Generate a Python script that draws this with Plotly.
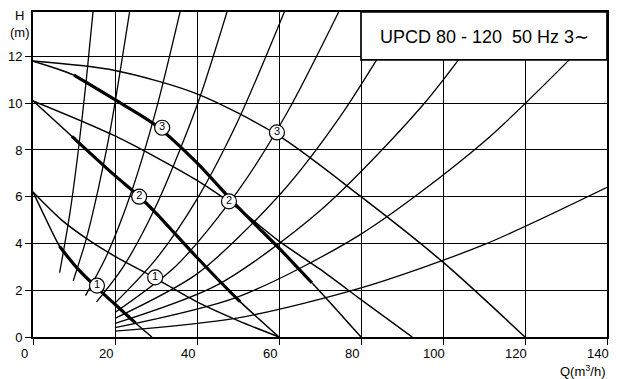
import numpy as np
import plotly.graph_objects as go

# ---------------- data ----------------
# Pump curves (Q in m3/h, H in m)
sp3_single_q = [0, 10, 20, 30, 40, 50, 60, 70, 80]
sp3_single_h = [11.8, 11.2, 10.15, 9.05, 7.45, 5.55, 3.8, 1.95, 0]
sp3_single_thick = (10, 68)

sp2_single_q = [0, 10, 20, 26, 30, 40, 50, 60]
sp2_single_h = [10.1, 8.5, 6.9, 6.0, 5.3, 3.4, 1.6, 0]
sp2_single_thick = (9.5, 50.5)

sp1_single_q = [0, 3, 6.6, 11, 15.6, 20, 25, 29]
sp1_single_h = [6.2, 5.1, 3.85, 2.9, 2.1, 1.4, 0.6, 0]
sp1_single_thick = (6.5, 25)

sp3_twin_q = [0, 20, 40, 60, 80, 100, 120]
sp3_twin_h = [11.8, 11.4, 10.4, 8.6, 6.0, 3.2, 0]

sp2_twin_q = [0, 20, 40, 50, 60, 70, 80, 92.5]
sp2_twin_h = [10.1, 8.6, 6.7, 5.5, 4.1, 2.9, 1.6, 0]

sp1_twin_q = [0, 7, 14, 20, 30, 40, 50, 60]
sp1_twin_h = [6.2, 5.0, 4.1, 3.45, 2.5, 1.5, 0.7, 0]

# System curves
sys_curves = [
    ([6.5, 9, 11, 13, 14.8], [2.75, 5.3, 7.9, 11.0, 14.2]),
    ([9.8, 13, 16, 19, 24], [2.4, 4.2, 6.4, 9.0, 14.4]),
    ([12.8, 18, 24, 30, 36], [1.77, 3.5, 6.2, 9.7, 14.0]),
    ([15.5, 22, 30, 40, 48], [1.5, 3.0, 5.6, 9.9, 14.3]),
    ([20, 30, 40, 50, 62], [1.45, 3.33, 5.9, 9.25, 14.2]),
    ([20, 35, 50, 62, 75], [1.05, 3.06, 6.25, 9.6, 14.06]),
    ([20, 40, 60, 75, 92], [0.8, 2.7, 6.05, 9.45, 14.2]),
    ([20, 45, 70, 95, 113], [0.58, 2.23, 5.4, 9.9, 14.05]),
    ([20, 50, 80, 110, 140], [0.4, 1.72, 4.4, 8.35, 13.5]),
    ([20, 50, 80, 110, 140], [0.25, 0.82, 2.1, 3.95, 6.4]),
]

# Circled speed labels
label_q = [15.6, 29.8, 25.9, 47.8, 31.5, 59.5]
label_h = [2.2, 2.55, 6.0, 5.8, 8.95, 8.75]
label_txt = ["1", "1", "2", "2", "3", "3"]

x_ticks = [0, 20, 40, 60, 80, 100, 120, 140]
x_tick_labels = ["0", "20", "40", "60", "80", "100", "120", "140"]
y_ticks = [0, 2, 4, 6, 8, 10, 12]
title_text = "UPCD 80 - 120\u00a0\u00a050 Hz 3\u223c"

FONT = "Liberation Sans"

# ---------------- figure ----------------
fig = go.Figure()


def add_line(q, h, width):
    fig.add_trace(go.Scatter(
        x=q, y=h, mode="lines",
        line=dict(color="black", width=width, shape="spline", smoothing=0.8),
        hoverinfo="skip", showlegend=False))


for q, h in sys_curves:
    add_line(q, h, 1.3)

for q, h in [(sp3_twin_q, sp3_twin_h), (sp2_twin_q, sp2_twin_h), (sp1_twin_q, sp1_twin_h)]:
    add_line(q, h, 1.5)

for q, h, (a, b) in [(sp3_single_q, sp3_single_h, sp3_single_thick),
                     (sp2_single_q, sp2_single_h, sp2_single_thick),
                     (sp1_single_q, sp1_single_h, sp1_single_thick)]:
    add_line(q, h, 1.5)
    qq = np.array(q, dtype=float)
    hh = np.array(h, dtype=float)
    inner = (qq > a) & (qq < b)
    tq = [a] + list(qq[inner]) + [b]
    th = [float(np.interp(a, qq, hh))] + list(hh[inner]) + [float(np.interp(b, qq, hh))]
    add_line(tq, th, 3.2)

fig.add_trace(go.Scatter(
    x=label_q, y=label_h, mode="markers+text", text=label_txt,
    textposition="middle center",
    textfont=dict(family=FONT, size=11, color="black"),
    marker=dict(symbol="circle", size=15, color="white",
                line=dict(color="black", width=1.2)),
    hoverinfo="skip", showlegend=False))

axis_common = dict(
    showgrid=True, gridcolor="black", gridwidth=1.4,
    showline=True, linecolor="black", linewidth=1.7, mirror=True,
    ticks="outside", ticklen=6, tickcolor="black", tickwidth=1.4,
    zeroline=False,
    tickfont=dict(family=FONT, size=13, color="black"),
)

annotations = [
    dict(x=110, y=12.85, xref="x", yref="y", text=title_text, showarrow=False,
         font=dict(family=FONT, size=18, color="black")),
    dict(x=-0.0226, y=0.963, xref="paper", yref="paper", text="H<br>(m)",
         xanchor="center", yanchor="middle",
         showarrow=False, font=dict(family=FONT, size=13, color="black")),
    dict(x=0.958, y=-0.105, xref="paper", yref="paper",
         xanchor="center", yanchor="middle",
         text="Q(m<sup>3</sup>/h)", showarrow=False,
         font=dict(family=FONT, size=13, color="black")),
]
for v, t in zip(x_ticks, x_tick_labels):
    annotations.append(dict(x=v, y=0, xref="x", yref="y", text=t, showarrow=False,
                            xanchor="center", yanchor="top", xshift=-9, yshift=-7,
                            font=dict(family=FONT, size=13, color="black")))

fig.update_layout(
    width=617, height=379,
    margin=dict(l=33, r=8, t=12, b=42),
    paper_bgcolor="white", plot_bgcolor="white",
    xaxis=dict(range=[0, 140], tickvals=x_ticks, showticklabels=False, **axis_common),
    yaxis=dict(range=[0, 13.9], tickvals=y_ticks, **axis_common),
    shapes=[dict(type="rect", xref="x", yref="y", x0=80, x1=140, y0=11.85, y1=13.9,
                 fillcolor="white", line=dict(color="black", width=1.7), layer="above")],
    annotations=annotations,
)

fig.write_html("out.html")
